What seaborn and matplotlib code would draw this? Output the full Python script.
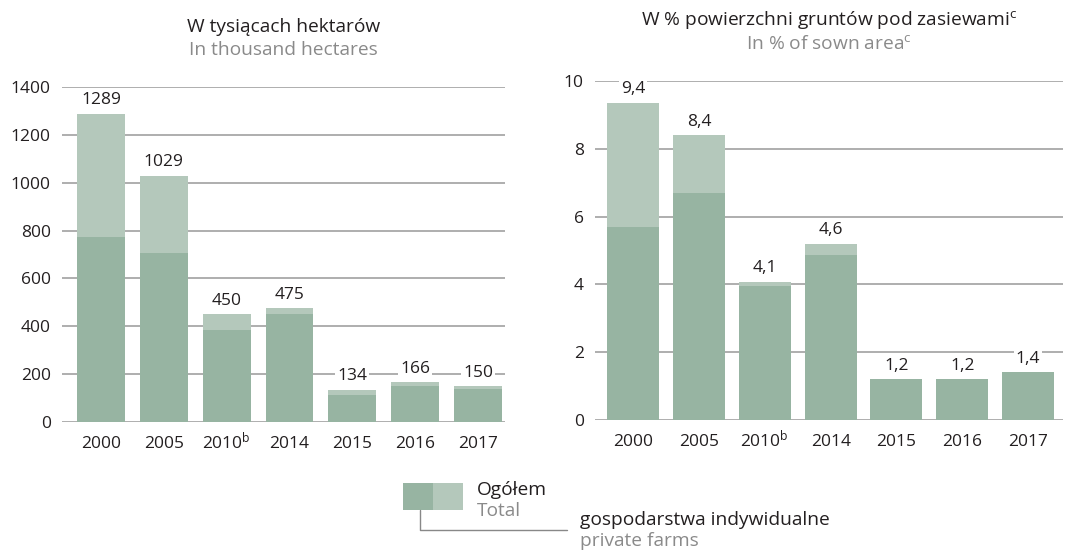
import matplotlib
matplotlib.use('Agg')
import matplotlib.pyplot as plt
import numpy as np
import pandas as pd
import seaborn as sns
from matplotlib.patches import Rectangle
from matplotlib.lines import Line2D

# data
years = ['2000', '2005', '2010$^{\\mathrm{b}}$', '2014', '2015', '2016', '2017']
ha_total = [1289, 1029, 450, 475, 134, 166, 150]
ha_private = [775, 705, 385, 452, 112, 152, 138]
ha_labels = ['1289', '1029', '450', '475', '134', '166', '150']
pct_total = [9.35, 8.4, 4.07, 5.2, 1.2, 1.2, 1.41]
pct_private = [5.7, 6.7, 3.96, 4.88, 1.2, 1.2, 1.41]
pct_labels = ['9,4', '8,4', '4,1', '4,6', '1,2', '1,2', '1,4']

dark = '#97b4a2'
light = '#b4c8bb'
ink = '#231f20'
grey = '#8a8a8a'
fs = 12.5
fs_words = 13.8

sns.set_theme(style='white')
plt.rcParams['font.family'] = ['Open Sans', 'DejaVu Sans']
plt.rcParams['mathtext.fontset'] = 'custom'
plt.rcParams['mathtext.rm'] = 'Open Sans'
plt.rcParams['mathtext.it'] = 'Open Sans'
plt.rcParams['font.size'] = fs

fig = plt.figure(figsize=(10.72, 5.5), dpi=100)
ax1 = fig.add_axes([62 / 1072, 1 - 422 / 550, (505 - 62) / 1072, (422 - 87) / 550])
ax2 = fig.add_axes([595 / 1072, 1 - 420 / 550, (1063 - 595) / 1072, (420 - 81) / 550])

def draw_panel(ax, total, private, labels, ymax, step, width, xlim, title, subtitle):
    df = pd.DataFrame({'year': years, 'total': total, 'private': private})
    sns.barplot(data=df, x='year', y='total', color=light, width=width,
                saturation=1, linewidth=0, ax=ax, zorder=2)
    sns.barplot(data=df, x='year', y='private', color=dark, width=width,
                saturation=1, linewidth=0, ax=ax, zorder=3)
    for i, (v, lab) in enumerate(zip(total, labels)):
        ax.annotate(lab, (i, v), xytext=(0, 4), textcoords='offset points',
                    ha='center', va='bottom', color=ink, fontsize=fs, zorder=5,
                    bbox=dict(fc='white', ec='none', pad=1.5))
    ax.set_ylim(0, ymax)
    ax.set_xlim(*xlim)
    ax.set_yticks(np.arange(0, ymax + step / 2, step))
    ax.grid(axis='y', color='#999999', linewidth=1.1, zorder=0)
    ax.set_axisbelow(True)
    sns.despine(ax=ax, left=True, bottom=True)
    ax.tick_params(length=0, labelsize=fs, colors=ink)
    ax.tick_params(axis='y', pad=8)
    ax.tick_params(axis='x', pad=19)
    for t in ax.get_xticklabels():
        t.set_verticalalignment('baseline')
    ax.set_xlabel('')
    ax.set_ylabel('')
    ax.text(0.5, 1 + 60 / 335, title, transform=ax.transAxes, ha='center',
            va='center', color=ink, fontsize=fs_words)
    ax.text(0.5, 1 + 37 / 335, subtitle, transform=ax.transAxes, ha='center',
            va='center', color=grey, fontsize=fs_words)

draw_panel(ax1, ha_total, ha_private, ha_labels, 1400, 200, 0.76, (-0.62, 6.43),
           'W tysiącach hektarów', 'In thousand hectares')
draw_panel(ax2, pct_total, pct_private, pct_labels, 10, 2, 0.79, (-0.58, 6.53),
           'W % powierzchni gruntów pod zasiewami$^{\\mathrm{c}}$',
           'In % of sown area$^{\\mathrm{c}}$')

# legend drawn by hand at the bottom
W, H = 1072, 550
fig.add_artist(Rectangle((403 / W, 1 - 510 / H), 30 / W, 27 / H, color=dark,
                         transform=fig.transFigure, lw=0))
fig.add_artist(Rectangle((433 / W, 1 - 510 / H), 30 / W, 27 / H, color=light,
                         transform=fig.transFigure, lw=0))
fig.add_artist(Line2D([420 / W, 420 / W, 567 / W], [1 - 510 / H, 1 - 530 / H, 1 - 530 / H],
                      transform=fig.transFigure, color='#888888', lw=1))
fig.text(477 / W, 1 - 490 / H, 'Ogółem', ha='left', va='center', color=ink, fontsize=fs_words)
fig.text(477 / W, 1 - 511 / H, 'Total', ha='left', va='center', color=grey, fontsize=fs_words)
fig.text(580 / W, 1 - 520 / H, 'gospodarstwa indywidualne', ha='left', va='center',
         color=ink, fontsize=fs_words)
fig.text(580 / W, 1 - 541 / H, 'private farms', ha='left', va='center', color=grey,
         fontsize=fs_words)

fig.savefig('out.png', dpi=100)
